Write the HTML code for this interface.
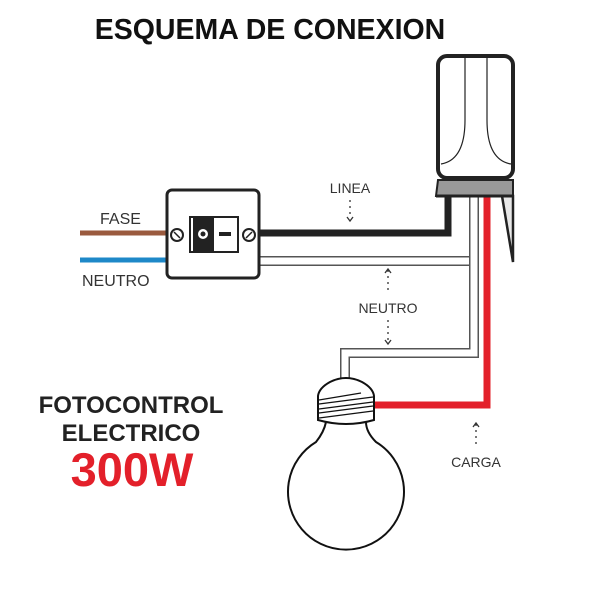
<!DOCTYPE html>
<html><head><style>
body{margin:0;background:#fff;width:600px;height:600px;overflow:hidden;font-family:"Liberation Sans",sans-serif}
</style></head><body>
<svg width="600" height="600" viewBox="0 0 600 600" xmlns="http://www.w3.org/2000/svg">
<text x="270" y="39" font-size="28.5" font-weight="bold" text-anchor="middle" fill="#111">ESQUEMA DE CONEXION</text>
<line x1="80" y1="233" x2="168" y2="233" stroke="#9a5a3e" stroke-width="5"/>
<line x1="80" y1="260" x2="168" y2="260" stroke="#1e88c8" stroke-width="5"/>
<text x="100" y="224" font-size="16" fill="#333">FASE</text>
<text x="82" y="286" font-size="16" fill="#333">NEUTRO</text>
<path d="M259 261 H474 V353 H345 V382" fill="none" stroke="#555" stroke-width="10"/>
<path d="M259 261 H474 V353 H345 V382" fill="none" stroke="#fff" stroke-width="7"/>
<path d="M474 196 V265" fill="none" stroke="#555" stroke-width="10"/>
<path d="M474 196 V266" fill="none" stroke="#fff" stroke-width="7"/>
<path d="M258 233 H448 V196" fill="none" stroke="#222" stroke-width="7"/>
<path d="M487 196 V405 H372" fill="none" stroke="#e3202a" stroke-width="7"/>
<rect x="167" y="190" width="92" height="88" rx="5" fill="#fff" stroke="#222" stroke-width="3"/>
<circle cx="177" cy="235" r="6" fill="#fff" stroke="#222" stroke-width="2"/>
<line x1="174" y1="232" x2="180" y2="238" stroke="#222" stroke-width="1.5"/>
<circle cx="249" cy="235" r="6" fill="#fff" stroke="#222" stroke-width="2"/>
<line x1="246" y1="238" x2="252" y2="232" stroke="#222" stroke-width="1.5"/>
<rect x="190" y="217" width="48" height="35" fill="#fff" stroke="#222" stroke-width="2"/>
<rect x="193" y="217" width="21" height="35" fill="#222"/>
<circle cx="203" cy="234" r="5" fill="#fff"/><circle cx="203" cy="234" r="2.5" fill="#222"/>
<rect x="219" y="232" width="12" height="4" fill="#222"/>
<polygon points="502,196 513,196 513,262" fill="#e8e8e8" stroke="#222" stroke-width="2.5"/>
<path d="M436 196 L438 180 H513 V196 Z" fill="#999" stroke="#222" stroke-width="2"/>
<rect x="438" y="56" width="75" height="122" rx="9" fill="#fff" stroke="#222" stroke-width="4"/>
<line x1="436" y1="196" x2="513" y2="196" stroke="#222" stroke-width="3"/>
<path d="M465 58 V120 Q465 160 441 164" fill="none" stroke="#222" stroke-width="1.2"/>
<path d="M487 58 V120 Q487 160 511 164" fill="none" stroke="#222" stroke-width="1.2"/>
<g font-size="14" fill="#333" text-anchor="middle">
<text x="350" y="193">LINEA</text>
<text x="388" y="313">NEUTRO</text>
<text x="476" y="467">CARGA</text>
</g>
<g stroke="#333" stroke-width="1.3" fill="none" stroke-dasharray="2,4">
<line x1="350" y1="200" x2="350" y2="218"/>
<line x1="388" y1="270" x2="388" y2="292"/>
<line x1="388" y1="320" x2="388" y2="340"/>
<line x1="476" y1="424" x2="476" y2="446"/>
</g>
<g stroke="#333" stroke-width="1.3" fill="none">
<polyline points="347,217 350,221 353,217"/>
<polyline points="385,273 388,269 391,273"/>
<polyline points="385,340 388,344 391,340"/>
<polyline points="473,427 476,423 479,427"/>
</g>
<path d="M326 422 Q324 432 316 442 A58 58 0 1 0 376 442 Q366 432 366 422 Z" fill="#fff" stroke="#111" stroke-width="2"/>
<path d="M330 382 Q346 374 362 382 Q373 388 374 396 V420 Q346 428 318 420 V396 Q319 388 330 382 Z" fill="#fff" stroke="#111" stroke-width="2"/>
<g stroke="#111" stroke-width="1.3">
<line x1="319" y1="400" x2="361" y2="393"/><line x1="319" y1="404" x2="373" y2="397"/>
<line x1="319" y1="409" x2="373" y2="402"/><line x1="319" y1="413" x2="373" y2="406"/>
<line x1="319" y1="418" x2="373" y2="411"/>
</g>
<g font-weight="bold" text-anchor="middle">
<text x="131" y="413" font-size="24" fill="#222">FOTOCONTROL</text>
<text x="131" y="441" font-size="24" fill="#222">ELECTRICO</text>
<text x="132" y="486" font-size="47" fill="#e3202a">300W</text>
</g>
</svg>
</body></html>
